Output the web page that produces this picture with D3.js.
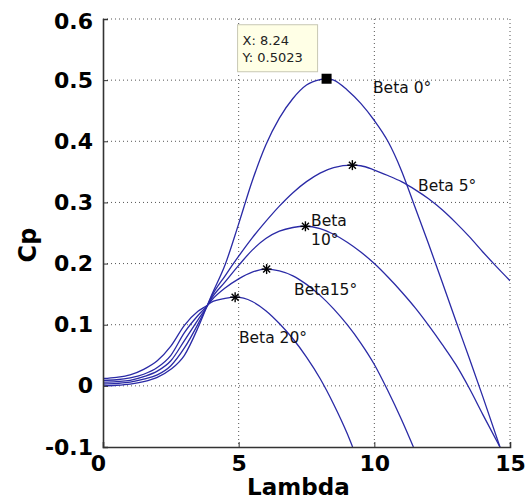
<!DOCTYPE html>
<html>
<head>
<meta charset="utf-8">
<script src="https://cdn.jsdelivr.net/npm/d3@7"></script>
<style>
  body { margin: 0; background: #fff; }
</style>
</head>
<body>
<div id="chart"></div>
<script>
// tick values
const lambdaTicks = [0, 5, 10, 15];
const cpTicks = [-0.1, 0, 0.1, 0.2, 0.3, 0.4, 0.5, 0.6];

// Cp(lambda) for each pitch angle, [lambda, Cp]
const beta0 = [[0,0.000],[0.5,0.001],[1,0.003],[1.5,0.007],[2,0.014],[2.5,0.027],[3,0.050],[3.5,0.095],[3.82,0.129],[4,0.148],[4.5,0.198],[5,0.265],[5.5,0.335],[6,0.394],[6.5,0.438],[7,0.470],[7.5,0.492],[8,0.501],[8.24,0.5023],[8.5,0.500],[9,0.484],[9.5,0.462],[10,0.434],[10.5,0.400],[11,0.352],[11.5,0.292],[12,0.232],[12.5,0.170],[13,0.107],[13.5,0.045],[14,-0.018],[14.63,-0.1]];
const beta5 = [[0,0.003],[0.5,0.004],[1,0.006],[1.5,0.011],[2,0.018],[2.5,0.033],[3,0.062],[3.5,0.101],[3.82,0.129],[4,0.146],[4.5,0.180],[5,0.212],[5.5,0.242],[6,0.269],[6.5,0.294],[7,0.316],[7.5,0.334],[8,0.348],[8.5,0.357],[9.19,0.361],[9.5,0.360],[10,0.353],[10.5,0.344],[11,0.334],[11.5,0.321],[12,0.306],[12.5,0.288],[13,0.267],[13.5,0.244],[14,0.219],[14.5,0.195],[15,0.172]];
const beta10 = [[0,0.006],[0.5,0.007],[1,0.009],[1.5,0.015],[2,0.024],[2.5,0.041],[3,0.074],[3.5,0.108],[3.82,0.129],[4,0.143],[4.5,0.170],[5,0.197],[5.5,0.222],[6,0.241],[6.5,0.253],[7,0.259],[7.46,0.261],[8,0.257],[8.5,0.248],[9,0.235],[9.5,0.219],[10,0.200],[10.5,0.178],[11,0.154],[11.5,0.128],[12,0.099],[12.5,0.068],[13,0.035],[13.5,-0.004],[14,-0.047],[14.63,-0.1]];
const beta15 = [[0,0.009],[0.5,0.010],[1,0.013],[1.5,0.019],[2,0.030],[2.5,0.050],[3,0.087],[3.5,0.115],[3.82,0.130],[4,0.140],[4.5,0.160],[5,0.175],[5.5,0.186],[6.03,0.191],[6.5,0.188],[7,0.180],[7.5,0.166],[8,0.148],[8.5,0.126],[9,0.100],[9.5,0.070],[10,0.035],[10.5,-0.008],[11,-0.055],[11.44,-0.1]];
const beta20 = [[0,0.012],[0.5,0.014],[1,0.018],[1.5,0.027],[2,0.041],[2.5,0.065],[3,0.099],[3.5,0.122],[3.82,0.131],[4,0.137],[4.5,0.143],[4.87,0.145],[5.5,0.138],[6,0.123],[6.5,0.102],[7,0.077],[7.5,0.047],[8,0.012],[8.5,-0.030],[9,-0.078],[9.2,-0.1]];

const curves = [beta0, beta5, beta10, beta15, beta20];

// text labels placed next to the curves (lambda, Cp of the baseline)
const labelText = [['Beta 0°'], ['Beta 5°'], ['Beta', '10°'], ['Beta15°'], ['Beta 20°']];
const labelAt = [[9.95, 0.479], [11.61, 0.318], [7.67, 0.262], [7.04, 0.148], [5.01, 0.070]];

const margin = {top: 19, right: 20, bottom: 53, left: 103};
const W = 530, H = 500;
const width = W - margin.left - margin.right,
      height = H - margin.top - margin.bottom;

const x = d3.scaleLinear([0, 15], [0, width]);
const y = d3.scaleLinear([-0.1, 0.6], [height, 0]);

const svg = d3.select('#chart').append('svg')
  .attr('width', W)
  .attr('height', H)
  .style('font-family', '"DejaVu Sans", sans-serif');

const g = svg.append('g')
  .attr('transform', `translate(${margin.left},${margin.top})`);

// dotted grid
g.append('g')
  .selectAll('line')
  .data(lambdaTicks.slice(1))
  .join('line')
    .attr('x1', d => x(d)).attr('x2', d => x(d))
    .attr('y1', 0).attr('y2', height)
    .attr('stroke', '#555')
    .attr('stroke-dasharray', '1,3');

g.append('g')
  .selectAll('line')
  .data(cpTicks.slice(1))
  .join('line')
    .attr('x1', 0).attr('x2', width)
    .attr('y1', d => y(d)).attr('y2', d => y(d))
    .attr('stroke', '#555')
    .attr('stroke-dasharray', '1,3');

g.append('clipPath').attr('id', 'plot-clip')
  .append('rect')
    .attr('width', width)
    .attr('height', height);

const line = d3.line()
  .x(d => x(d[0]))
  .y(d => y(d[1]))
  .curve(d3.curveMonotoneX);

g.append('g')
    .attr('clip-path', 'url(#plot-clip)')
  .selectAll('path')
  .data(curves)
  .join('path')
    .attr('d', line)
    .attr('fill', 'none')
    .attr('stroke', '#2a2aa6')
    .attr('stroke-width', 1.3);

// axes
const fmtCp = d => d === 0 ? '0' : d3.format('.1f')(d).replace('−', '-');
const xAxis = d3.axisBottom(x).tickValues(lambdaTicks).tickSize(-5).tickPadding(9).tickFormat(d3.format('d'));
const yAxis = d3.axisLeft(y).tickValues(cpTicks).tickSize(-5).tickPadding(9).tickFormat(fmtCp);

const gx = g.append('g')
  .attr('transform', `translate(0,${height})`)
  .call(xAxis);
const gy = g.append('g').call(yAxis);

[gx, gy].forEach(a => {
  a.select('.domain').attr('stroke', '#333').attr('stroke-width', 1.6);
  a.selectAll('.tick line').attr('stroke', '#333');
  a.selectAll('.tick text')
    .attr('fill', '#000')
    .style('font-family', '"DejaVu Sans", sans-serif')
    .style('font-weight', 'bold')
    .style('font-size', '22px');
});
gx.selectAll('.tick text').attr('dy', '0.7em');
gy.selectAll('.tick text').attr('dx', '-1');
gy.selectAll('.tick').filter(d => d === 0.6).select('text').attr('dy', '0.42em');
gx.selectAll('.tick').filter(d => d === 0).select('text').attr('dx', '-5');

svg.append('text')
  .attr('x', margin.left + x(7.2))
  .attr('y', 495)
  .attr('text-anchor', 'middle')
  .style('font-weight', 'bold')
  .style('font-size', '23px')
  .text('Lambda');

svg.append('text')
  .attr('transform', 'translate(36,245) rotate(-90)')
  .attr('text-anchor', 'middle')
  .style('font-weight', 'bold')
  .style('font-size', '24px')
  .text('Cp');

// peak markers
const peaks = curves.map(c => d3.greatest(c, d => d[1]));

const star = g.append('g')
  .selectAll('g')
  .data(peaks.slice(1))
  .join('g')
    .attr('transform', d => `translate(${x(d[0])},${y(d[1])})`)
    .attr('stroke', '#000')
    .attr('stroke-width', 1.4);
star.append('line').attr('x1', -5).attr('x2', 5);
star.append('line').attr('y1', -5).attr('y2', 5);
star.append('line').attr('x1', -3.5).attr('y1', -3.5).attr('x2', 3.5).attr('y2', 3.5);
star.append('line').attr('x1', -3.5).attr('y1', 3.5).attr('x2', 3.5).attr('y2', -3.5);

const peak0 = peaks[0];
g.append('rect')
  .attr('x', x(peak0[0]) - 5)
  .attr('y', y(peak0[1]) - 5)
  .attr('width', 10)
  .attr('height', 10)
  .attr('fill', '#000');

// curve labels
const labels = g.append('g')
  .selectAll('text')
  .data(labelText)
  .join('text')
    .attr('x', (d, i) => x(labelAt[i][0]))
    .attr('y', (d, i) => y(labelAt[i][1]))
    .attr('fill', '#111')
    .style('font-size', '15.5px');
labels.selectAll('tspan')
  .data(d => d)
  .join('tspan')
    .attr('x', function() { return this.parentNode.getAttribute('x'); })
    .attr('dy', (d, i) => i ? 19 : 0)
    .text(d => d);

// data tip box
const tip = g.append('g')
  .attr('transform', `translate(${x(peak0[0]) - 89},${y(peak0[1]) - 54})`);
tip.append('rect')
  .attr('width', 80)
  .attr('height', 47)
  .attr('fill', '#ffffe6')
  .attr('stroke', '#c8c8b4');
tip.append('text')
  .attr('x', 5).attr('y', 20)
  .style('font-size', '13px')
  .attr('fill', '#222')
  .text(`X: ${peak0[0]}`);
tip.append('text')
  .attr('x', 5).attr('y', 37)
  .style('font-size', '13px')
  .attr('fill', '#222')
  .text(`Y: ${peak0[1]}`);
</script>
</body>
</html>
